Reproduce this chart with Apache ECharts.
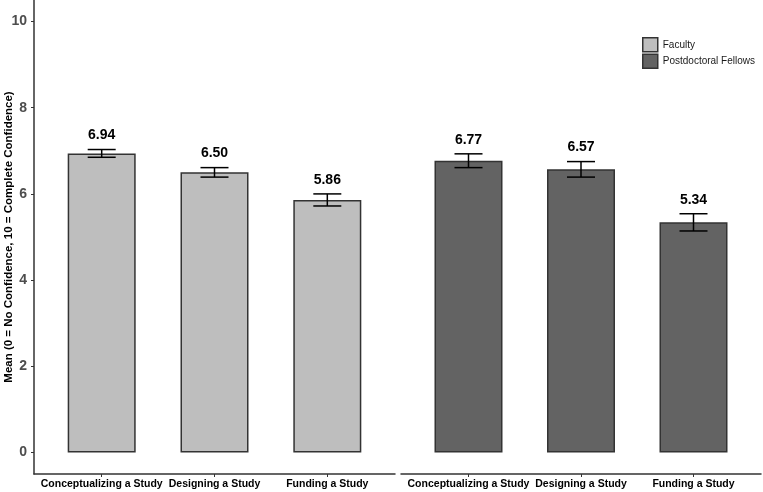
<!DOCTYPE html>
<html>
<head>
<meta charset="utf-8">
<script src="https://cdn.jsdelivr.net/npm/echarts@6/dist/echarts.min.js"></script>
<style>
html, body { margin: 0; padding: 0; background: #fff; }
#main { width: 763px; height: 492px; }
</style>
</head>
<body>
<div id="main"></div>
<script>
var categories = ['Conceptualizing a Study', 'Designing a Study', 'Funding a Study'];
var groups = ['Faculty', 'Postdoctoral Fellows'];
var facultyMeans = [6.94, 6.50, 5.86];
var facultySE = [0.09, 0.11, 0.14];
var postdocMeans = [6.77, 6.57, 5.34];
var postdocSE = [0.16, 0.18, 0.20];
var yTicks = [0, 2, 4, 6, 8, 10];
var catPos = [1, 2, 3];

var FONT = '"Liberation Sans", Arial, sans-serif';

function barData(means) {
  return means.map(function (m, i) { return [catPos[i], m]; });
}
function errData(means, se) {
  return means.map(function (m, i) { return [catPos[i], m, se[i]]; });
}

// error bar + value label above it
function renderErr(params, api) {
  var x = api.value(0), m = api.value(1), se = api.value(2);
  var top = api.coord([x, m + se]);
  var bot = api.coord([x, m - se]);
  var hw = 14;
  var st = { stroke: '#000', lineWidth: 1.5 };
  return {
    type: 'group',
    children: [
      { type: 'line', shape: { x1: top[0], y1: top[1], x2: bot[0], y2: bot[1] }, style: st },
      { type: 'line', shape: { x1: top[0] - hw, y1: top[1], x2: top[0] + hw, y2: top[1] }, style: st },
      { type: 'line', shape: { x1: bot[0] - hw, y1: bot[1], x2: bot[0] + hw, y2: bot[1] }, style: st },
      { type: 'text', style: {
          text: m.toFixed(2), x: top[0], y: top[1] - 7,
          align: 'center', verticalAlign: 'bottom',
          font: 'bold 14px ' + FONT, fill: '#000'
      } }
    ]
  };
}

function xAxisFor(gridIndex) {
  return {
    type: 'value', gridIndex: gridIndex, min: 0.4, max: 3.6,
    splitLine: { show: false },
    axisLine: { show: true, onZero: false, lineStyle: { color: '#333', width: 1.5 } },
    axisTick: { show: true, customValues: catPos, length: 3, lineStyle: { color: '#333' } },
    axisLabel: {
      customValues: catPos, margin: 5,
      fontFamily: FONT, fontWeight: 'bold', fontSize: 10.5, color: '#000',
      formatter: function (v) { return categories[Math.round(v) - 1]; }
    }
  };
}

var chart = echarts.init(document.getElementById('main'));
chart.setOption({
  backgroundColor: '#fff',
  animation: false,
  textStyle: { fontFamily: FONT },
  legend: {
    data: groups, orient: 'vertical', left: 637, top: 32,
    itemWidth: 15, itemHeight: 14, itemGap: 1, icon: 'rect',
    itemStyle: { borderColor: '#333', borderWidth: 1.5 },
    textStyle: { fontSize: 10, color: '#1a1a1a', fontFamily: FONT }
  },
  grid: [
    { left: 34, top: 0, width: 361, height: 474, outerBoundsMode: 'none', containLabel: false },
    { left: 401, top: 0, width: 360, height: 474, outerBoundsMode: 'none', containLabel: false }
  ],
  xAxis: [xAxisFor(0), xAxisFor(1)],
  yAxis: [
    {
      type: 'value', gridIndex: 0, min: -0.5, max: 10.5,
      name: 'Mean (0 = No Confidence, 10 = Complete Confidence)',
      nameLocation: 'middle', nameGap: 19, nameMoveOverlap: false,
      nameTextStyle: { fontFamily: FONT, fontWeight: 'bold', fontSize: 11.5, color: '#000' },
      splitLine: { show: false },
      axisLine: { show: true, onZero: false, lineStyle: { color: '#333', width: 1.5 } },
      axisTick: { show: true, customValues: yTicks, length: 3, lineStyle: { color: '#333' } },
      axisLabel: { customValues: yTicks, margin: 7, fontFamily: FONT, fontWeight: 'bold', fontSize: 14, color: '#4D4D4D' }
    },
    {
      type: 'value', gridIndex: 1, min: -0.5, max: 10.5, show: false,
      splitLine: { show: false }
    }
  ],
  series: [
    {
      name: groups[0], type: 'bar', xAxisIndex: 0, yAxisIndex: 0, barWidth: 68,
      data: barData(facultyMeans),
      itemStyle: { color: '#BEBEBE', borderColor: '#333', borderWidth: 1.5 }
    },
    {
      name: groups[1], type: 'bar', xAxisIndex: 1, yAxisIndex: 1, barWidth: 68,
      data: barData(postdocMeans),
      itemStyle: { color: '#636363', borderColor: '#333', borderWidth: 1.5 }
    },
    {
      type: 'custom', xAxisIndex: 0, yAxisIndex: 0, z: 5,
      renderItem: renderErr, data: errData(facultyMeans, facultySE),
      encode: { x: 0, y: 1 }
    },
    {
      type: 'custom', xAxisIndex: 1, yAxisIndex: 1, z: 5,
      renderItem: renderErr, data: errData(postdocMeans, postdocSE),
      encode: { x: 0, y: 1 }
    }
  ]
});
</script>
</body>
</html>
